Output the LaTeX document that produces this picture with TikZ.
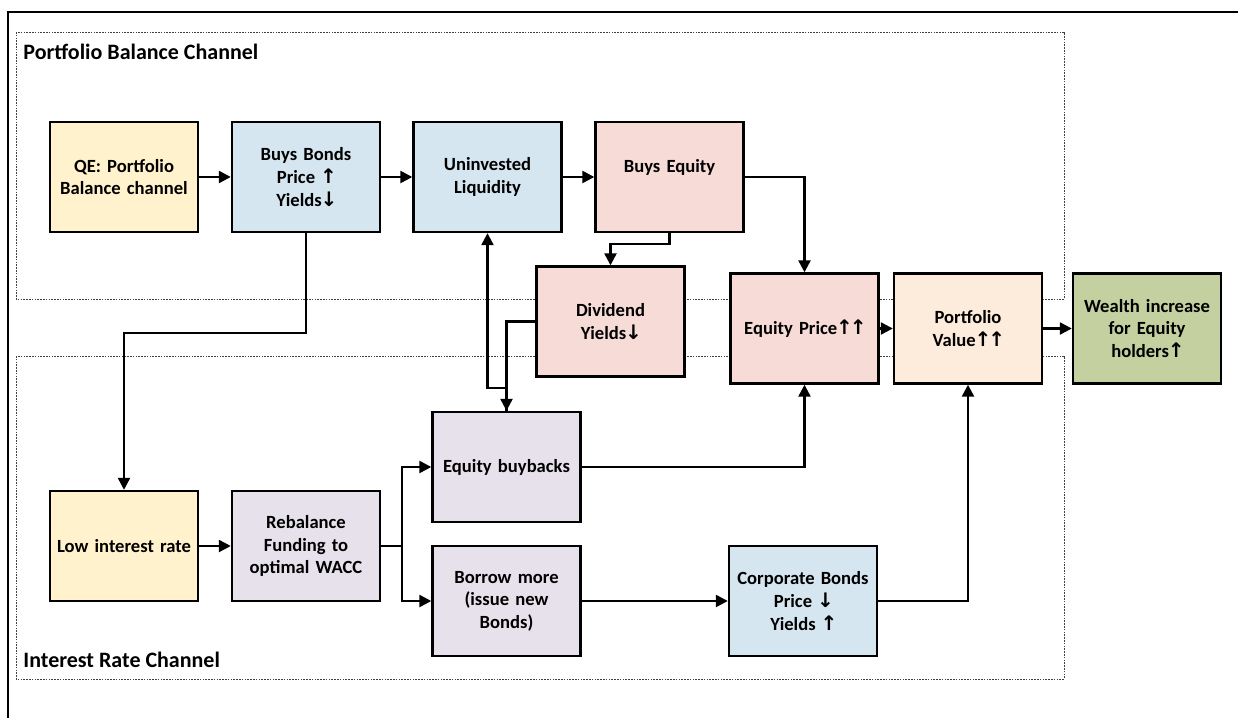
\documentclass[tikz,border=0pt]{standalone}
\usepackage{fontspec}
\setmainfont{Carlito}
\newfontfamily\arrowfont{DejaVu Sans}
\newcommand{\upar}{{\kern-0.6pt\arrowfont\bfseries\fontsize{10}{10}\selectfont ↑\kern-0.9pt}}
\newcommand{\dnar}{{\kern-0.6pt\arrowfont\bfseries\fontsize{10}{10}\selectfont ↓\kern-0.9pt}}
\usepackage{xcolor}
\usepackage{tikz}
\usetikzlibrary{arrows.meta,positioning}
\definecolor{qeyel}{HTML}{FFF2CC}
\definecolor{bndblue}{HTML}{D6E6F0}
\definecolor{eqpink}{HTML}{F6DBD6}
\definecolor{pfpeach}{HTML}{FDEBDB}
\definecolor{wlgreen}{HTML}{C5D0A0}
\definecolor{fnlilac}{HTML}{E7E1EC}

\begin{document}
\begin{tikzpicture}[x=0.5pt,y=-0.5pt,%
  box/.style={draw=black,line width=1.2pt,minimum width=74pt,minimum height=55pt,
    inner sep=1pt,text width=72pt,align=center,
    font=\bfseries\fontsize{9.3}{11.3}\selectfont},
  yel/.style={box,fill=qeyel},
  blu/.style={box,fill=bndblue},
  pnk/.style={box,fill=eqpink},
  pch/.style={box,fill=pfpeach},
  grn/.style={box,fill=wlgreen},
  lil/.style={box,fill=fnlilac},
  chan/.style={draw=black!75,line width=0.5pt,dash pattern=on 0.8pt off 0.6pt},
  title/.style={anchor=west,inner sep=0pt,font=\bfseries\fontsize{11}{13}\selectfont},
  flow/.style={line width=1.2pt,-{Triangle[length=6pt,width=6pt]}}
]
\useasboundingbox (0,0) rectangle (1238,718);
\draw[line width=0.8pt] (8,718) -- (8,12) -- (1240,12);

\draw[chan] (16,32) rectangle (1064,299);
\draw[chan] (16,356) rectangle (1064,679);
\node (pbc) at (23,52) [title] {Portfolio Balance Channel};
\node (irc) at (23,660) [title] {Interest Rate Channel};

\node (qe)     at (124,177)   [yel] {QE: Portfolio\\Balance channel};
\node (bonds)  at (306,177)   [blu] {Buys Bonds\\Price \upar\\Yields\dnar};
\node (uninv)  at (487.5,177) [blu] {Uninvested\\Liquidity};
\node (beq)    at (669.5,177) [pnk] {Buys Equity\\~};
\node (div)    at (610.5,321.5) [pnk] {Dividend\\Yields\dnar};
\node (eqp)    at (804.5,328.5) [pnk] {Equity Price\upar\upar};
\node (port)   at (968,328.5) [pch] {Portfolio\\Value\upar\upar};
\node (wealth) at (1147,328.5) [grn] {Wealth increase\\for Equity\\holders\upar};
\node (buy)    at (506.5,467) [lil] {Equity buybacks};
\node (low)    at (124,546)   [yel] {Low interest rate};
\node (reb)    at (306,546)   [lil] {Rebalance\\Funding to\\optimal WACC};
\node (bor)    at (506.5,601) [lil] {Borrow more\\(issue new\\Bonds)};
\node (corp)   at (803,601)   [blu] {Corporate Bonds\\Price \dnar\\Yields \upar};

\draw[flow] (qe) -- (bonds);
\draw[flow] (bonds) -- (uninv);
\draw[flow] (uninv) -- (beq);
\draw[flow] (beq.east) -| (eqp.north);
\draw[flow] (beq.south) -- ++(0,11) -| (div.north);
\draw[flow] (bonds.south) -- ++(0,100) -| (low.north);
\draw[flow] (div.west) -| (buy.north);
\draw[flow] (buy.north) -- ++(0,-23) -| (uninv.south);
\draw[flow] (buy.east) -| (eqp.south);
\draw[flow] (low) -- (reb);
\draw[flow] (reb.east) -- ++(21,0) |- (buy.west);
\draw[flow] (reb.east) -- ++(21,0) |- (bor.west);
\draw[flow] (bor) -- (corp);
\draw[flow] (corp.east) -| (port.south);
\draw[flow] (eqp) -- (port);
\draw[flow] (port) -- (wealth);
\end{tikzpicture}
\end{document}
